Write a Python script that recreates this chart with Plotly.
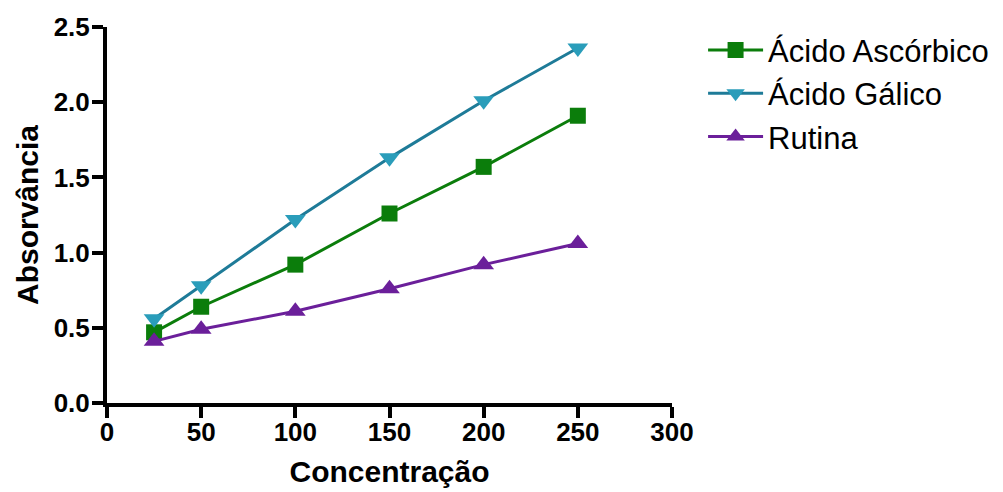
import plotly.graph_objects as go

concentracao = [25, 50, 100, 150, 200, 250]
acido_ascorbico = [0.47, 0.64, 0.92, 1.26, 1.57, 1.91]
acido_galico = [0.56, 0.78, 1.22, 1.63, 2.01, 2.36]
rutina = [0.41, 0.49, 0.61, 0.76, 0.92, 1.06]

x_ticks = [0, 50, 100, 150, 200, 250, 300]
y_ticks = [0.0, 0.5, 1.0, 1.5, 2.0, 2.5]
y_tick_labels = ["0.0", "0.5", "1.0", "1.5", "2.0", "2.5"]

series = [
    ("Ácido Ascórbico", acido_ascorbico, "#0b7d0b", "#0b7d0b", "square", 16),
    ("Ácido Gálico", acido_galico, "#1e7b98", "#2a9dba", "triangle-down", 18),
    ("Rutina", rutina, "#6b1f9a", "#6b1f9a", "triangle-up", 18),
]

fig = go.Figure()
for name, vals, lcol, mcol, sym, size in series:
    fig.add_trace(go.Scatter(
        x=concentracao, y=vals, name=name, mode="lines+markers",
        line=dict(color=lcol, width=3),
        marker=dict(symbol=sym, size=size, color=mcol, line=dict(width=0)),
        cliponaxis=False,
    ))

font_family = "Liberation Sans, Arial, sans-serif"
fig.update_layout(
    width=995, height=484,
    margin=dict(l=99, r=331, t=19, b=89, autoexpand=False),
    paper_bgcolor="white", plot_bgcolor="white",
    font=dict(family=font_family, color="black"),
    showlegend=True,
    legend=dict(
        x=1.055, y=1.01, xanchor="left", yanchor="top",
        font=dict(size=31, family=font_family, color="black"),
        bgcolor="rgba(0,0,0,0)", tracegroupgap=0, itemwidth=55,
    ),
    xaxis=dict(
        range=[0, 300], tickvals=x_ticks, ticktext=[str(v) for v in x_ticks],
        showgrid=False, zeroline=False, showline=True, linecolor="black", linewidth=4,
        ticks="outside", ticklen=11, tickwidth=4, tickcolor="black", automargin=False,
        ticklabelstandoff=-8,
        tickfont=dict(size=26, family=font_family, weight="bold"),
        title=dict(text="<b>Concentração</b>", font=dict(size=30, family=font_family), standoff=16),
    ),
    yaxis=dict(
        range=[0, 2.5], tickvals=y_ticks, ticktext=y_tick_labels,
        showgrid=False, zeroline=False, showline=True, linecolor="black", linewidth=4,
        ticks="outside", ticklen=11, tickwidth=4, tickcolor="black", automargin=False,
        ticklabelstandoff=-3,
        tickfont=dict(size=26, family=font_family, weight="bold"),
        title=dict(text="<b>Absorvância</b>", font=dict(size=30, family=font_family), standoff=7),
    ),
)

fig.write_html("out.html")
